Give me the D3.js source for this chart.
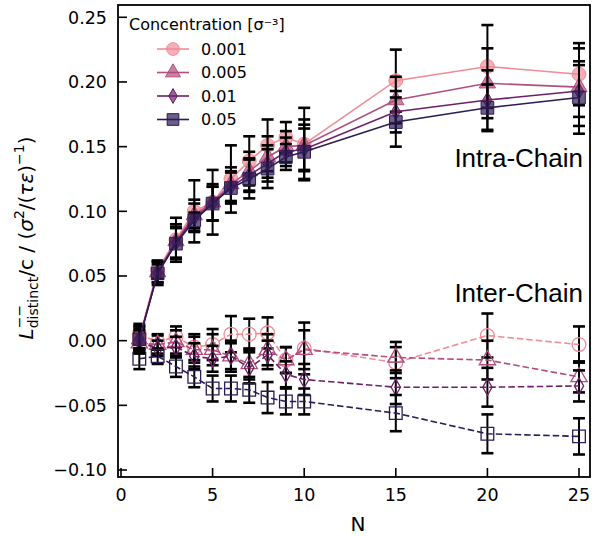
<!DOCTYPE html>
<html>
<head>
<meta charset="utf-8">
<script src="https://cdn.jsdelivr.net/npm/d3@7"></script>
<style>
  body { margin: 0; background: #fff; }
  svg { display: block; }
</style>
</head>
<body>
<svg id="chart" width="592" height="536"></svg>
<script>
// chain length
const N = [1, 2, 3, 4, 5, 6, 7, 8, 9, 10, 15, 20, 25];
const concentrations = ['0.001', '0.005', '0.01', '0.05'];

// intra-chain (solid, filled)
const intra001 = [0.002, 0.055, 0.078, 0.100, 0.107, 0.125, 0.139, 0.151, 0.157, 0.152, 0.201, 0.212, 0.206];
const intra005 = [0.001, 0.053, 0.077, 0.097, 0.107, 0.121, 0.131, 0.142, 0.150, 0.151, 0.186, 0.199, 0.196];
const intra01  = [0.001, 0.052, 0.076, 0.095, 0.106, 0.119, 0.128, 0.137, 0.146, 0.148, 0.177, 0.186, 0.193];
const intra05  = [0.001, 0.052, 0.075, 0.093, 0.106, 0.118, 0.125, 0.133, 0.142, 0.146, 0.169, 0.180, 0.188];
const intraErr001 = [0.009, 0.007, 0.017, 0.024, 0.025, 0.026, 0.019, 0.020, 0.012, 0.028, 0.024, 0.032, 0.024];
const intraErr005 = [0.008, 0.008, 0.013, 0.012, 0.014, 0.013, 0.015, 0.016, 0.012, 0.020, 0.018, 0.027, 0.030];
const intraErr01  = [0.007, 0.007, 0.012, 0.011, 0.013, 0.012, 0.013, 0.014, 0.011, 0.016, 0.016, 0.023, 0.020];
const intraErr05  = [0.010, 0.009, 0.012, 0.006, 0.013, 0.012, 0.015, 0.015, 0.010, 0.021, 0.019, 0.018, 0.028];

// inter-chain (dashed, open)
const inter001 = [0.005, -0.001, 0.003, -0.005, -0.003, 0.005, 0.005, 0.006, -0.015, -0.006, -0.017, 0.004, -0.003];
const inter005 = [-0.002, -0.003, -0.001, -0.007, -0.007, -0.012, -0.018, -0.007, -0.015, -0.007, -0.013, -0.015, -0.028];
const inter01  = [-0.001, -0.006, -0.005, -0.012, -0.014, -0.012, -0.021, -0.011, -0.026, -0.030, -0.036, -0.036, -0.035];
const inter05  = [-0.014, -0.012, -0.020, -0.028, -0.037, -0.037, -0.038, -0.044, -0.047, -0.047, -0.056, -0.072, -0.074];
const interErr001 = [0.008, 0.006, 0.008, 0.010, 0.012, 0.014, 0.012, 0.012, 0.010, 0.020, 0.012, 0.017, 0.014];
const interErr005 = [0.008, 0.007, 0.009, 0.010, 0.012, 0.012, 0.012, 0.012, 0.010, 0.015, 0.012, 0.015, 0.012];
const interErr01  = [0.007, 0.006, 0.008, 0.010, 0.010, 0.010, 0.012, 0.011, 0.010, 0.012, 0.013, 0.015, 0.012];
const interErr05  = [0.008, 0.006, 0.008, 0.008, 0.010, 0.010, 0.010, 0.012, 0.010, 0.010, 0.014, 0.015, 0.014];

const xTicks = [0, 5, 10, 15, 20, 25];
const yTicks = [-0.10, -0.05, 0.00, 0.05, 0.10, 0.15, 0.20, 0.25];

const colors = ['#f08c95', '#b04f7d', '#6d1f6a', '#2c1b55'];
const shapes = [d3.symbolCircle, d3.symbolTriangle, d3.symbolDiamond, d3.symbolSquare];
const sizes = [150, 115, 75, 160];

const intraSeries = [intra001, intra005, intra01, intra05];
const intraErrs = [intraErr001, intraErr005, intraErr01, intraErr05];
const interSeries = [inter001, inter005, inter01, inter05];
const interErrs = [interErr001, interErr005, interErr01, interErr05];

const pLeft = 118, pRight = 590, pTop = 5, pBottom = 477;

const x = d3.scaleLinear().domain([-0.164, 25.6]).range([pLeft, pRight]);
const y = d3.scaleLinear().domain([-0.1054, 0.2595]).range([pBottom, pTop]);

const svg = d3.select('#chart');
const plot = svg.append('g');

const line = d3.line()
  .x(d => x(d.n))
  .y(d => y(d.v));

function drawSeries(values, errs, i, open) {
  const pts = N.map((n, k) => ({ n: n, v: values[k], e: errs[k] }));
  const g = plot.append('g');

  // error bars
  const eb = g.append('g');
  eb.selectAll('.bar')
    .data(pts)
    .enter()
    .append('line')
    .attr('x1', d => x(d.n))
    .attr('x2', d => x(d.n))
    .attr('y1', d => y(d.v - d.e))
    .attr('y2', d => y(d.v + d.e))
    .attr('stroke', '#000')
    .attr('stroke-width', 2);
  eb.selectAll('.cap')
    .data(pts.flatMap(d => [{ n: d.n, v: d.v + d.e }, { n: d.n, v: d.v - d.e }]))
    .enter()
    .append('line')
    .attr('x1', d => x(d.n) - 6)
    .attr('x2', d => x(d.n) + 6)
    .attr('y1', d => y(d.v))
    .attr('y2', d => y(d.v))
    .attr('stroke', '#000')
    .attr('stroke-width', 2.6);

  g.append('path')
    .datum(pts)
    .attr('d', line)
    .attr('fill', 'none')
    .attr('stroke', colors[i])
    .attr('stroke-width', 1.6)
    .attr('stroke-dasharray', open ? '6.5,3' : null);

  g.selectAll('.marker')
    .data(pts)
    .enter()
    .append('path')
    .attr('transform', d => `translate(${x(d.n)},${y(d.v)})`)
    .attr('d', d3.symbol().type(shapes[i]).size(sizes[i]))
    .attr('fill', open ? 'none' : colors[i])
    .attr('fill-opacity', open ? null : 0.7)
    .attr('stroke', colors[i])
    .attr('stroke-width', open ? 1.3 : 1);
}

interSeries.forEach((s, i) => drawSeries(s, interErrs[i], i, true));
intraSeries.forEach((s, i) => drawSeries(s, intraErrs[i], i, false));

// frame
svg.append('rect')
  .attr('x', pLeft)
  .attr('y', pTop)
  .attr('width', pRight - pLeft)
  .attr('height', pBottom - pTop)
  .attr('fill', 'none')
  .attr('stroke', '#000')
  .attr('stroke-width', 1.8);

// ticks, inward
svg.append('g')
  .selectAll('line')
  .data(xTicks)
  .enter()
  .append('line')
  .attr('x1', d => x(d))
  .attr('x2', d => x(d))
  .attr('y1', pBottom)
  .attr('y2', pBottom - 9)
  .attr('stroke', '#000')
  .attr('stroke-width', 1.6);
svg.append('g')
  .selectAll('text')
  .data(xTicks)
  .enter()
  .append('text')
  .attr('x', d => x(d))
  .attr('y', pBottom + 24)
  .attr('text-anchor', 'middle')
  .attr('font-family', 'DejaVu Sans')
  .attr('font-size', 17.5)
  .text(d => d);

svg.append('g')
  .selectAll('line')
  .data(yTicks)
  .enter()
  .append('line')
  .attr('x1', pLeft)
  .attr('x2', pLeft + 9)
  .attr('y1', d => y(d))
  .attr('y2', d => y(d))
  .attr('stroke', '#000')
  .attr('stroke-width', 1.6);
svg.append('g')
  .selectAll('text')
  .data(yTicks)
  .enter()
  .append('text')
  .attr('x', pLeft - 11)
  .attr('y', d => y(d))
  .attr('dy', '0.36em')
  .attr('text-anchor', 'end')
  .attr('font-family', 'DejaVu Sans')
  .attr('font-size', 17.5)
  .text(d => d3.format('.2f')(d).replace('-', '\u2212'));

// axis labels
svg.append('text')
  .attr('x', (pLeft + pRight) / 2 + 4)
  .attr('y', 531)
  .attr('text-anchor', 'middle')
  .attr('font-family', 'DejaVu Sans')
  .attr('font-size', 20)
  .text('N');

// y label built piece by piece
const yl = svg.append('g').attr('transform', `translate(33,${(pTop + pBottom) / 2 - 3}) rotate(-90)`);
const ylInner = yl.append('g');
const pieces = [
  { t: 'L', italic: true },
  { t: '\u2212\u2212', size: 14, dy: -9, stack: true },
  { t: 'distinct', size: 14, dy: 5 },
  { t: '/c / (' },
  { t: 'σ', italic: true },
  { t: '2', size: 14, dy: -9 },
  { t: '/(' },
  { t: 'τε', italic: true },
  { t: ')' },
  { t: '\u22121', size: 14, dy: -9 },
  { t: ')' }
];
let cursor = 0, stackStart = null, stackW = 0;
pieces.forEach(p => {
  const startX = stackStart !== null ? stackStart : cursor;
  const el = ylInner.append('text')
    .attr('x', startX)
    .attr('y', p.dy || 0)
    .attr('font-family', 'DejaVu Sans')
    .attr('font-size', p.size || 20)
    .attr('font-style', p.italic ? 'italic' : 'normal')
    .text(p.t);
  const w = el.node().getComputedTextLength();
  if (p.stack) {
    stackStart = cursor;
    stackW = w;
  } else if (stackStart !== null) {
    cursor = stackStart + Math.max(w, stackW);
    stackStart = null;
  } else {
    cursor += w;
  }
});
ylInner.attr('transform', `translate(${-cursor / 2},0)`);

// annotations
svg.append('text')
  .attr('x', 583)
  .attr('y', 167)
  .attr('text-anchor', 'end')
  .attr('font-family', 'Liberation Sans, Arial, sans-serif')
  .attr('font-size', 26)
  .text('Intra-Chain');
svg.append('text')
  .attr('x', 583)
  .attr('y', 302)
  .attr('text-anchor', 'end')
  .attr('font-family', 'Liberation Sans, Arial, sans-serif')
  .attr('font-size', 26)
  .text('Inter-Chain');

// legend
const legend = svg.append('g');
legend.append('text')
  .attr('x', 129)
  .attr('y', 30)
  .attr('font-family', 'DejaVu Sans')
  .attr('font-size', 16)
  .text('Concentration [σ\u207B\u00B3]');
const rows = legend.selectAll('.row')
  .data(concentrations)
  .enter()
  .append('g')
  .attr('transform', (d, i) => `translate(0,${49 + i * 23.5})`);
rows.append('line')
  .attr('x1', 157)
  .attr('x2', 189)
  .attr('stroke', (d, i) => colors[i])
  .attr('stroke-width', 1.6);
rows.append('path')
  .attr('transform', 'translate(173,0)')
  .attr('d', (d, i) => d3.symbol().type(shapes[i]).size(sizes[i] * 0.85)())
  .attr('fill', (d, i) => colors[i])
  .attr('fill-opacity', 0.7)
  .attr('stroke', (d, i) => colors[i]);
rows.append('text')
  .attr('x', 201)
  .attr('dy', '0.36em')
  .attr('font-family', 'DejaVu Sans')
  .attr('font-size', 16)
  .text(d => d);
</script>
</body>
</html>
